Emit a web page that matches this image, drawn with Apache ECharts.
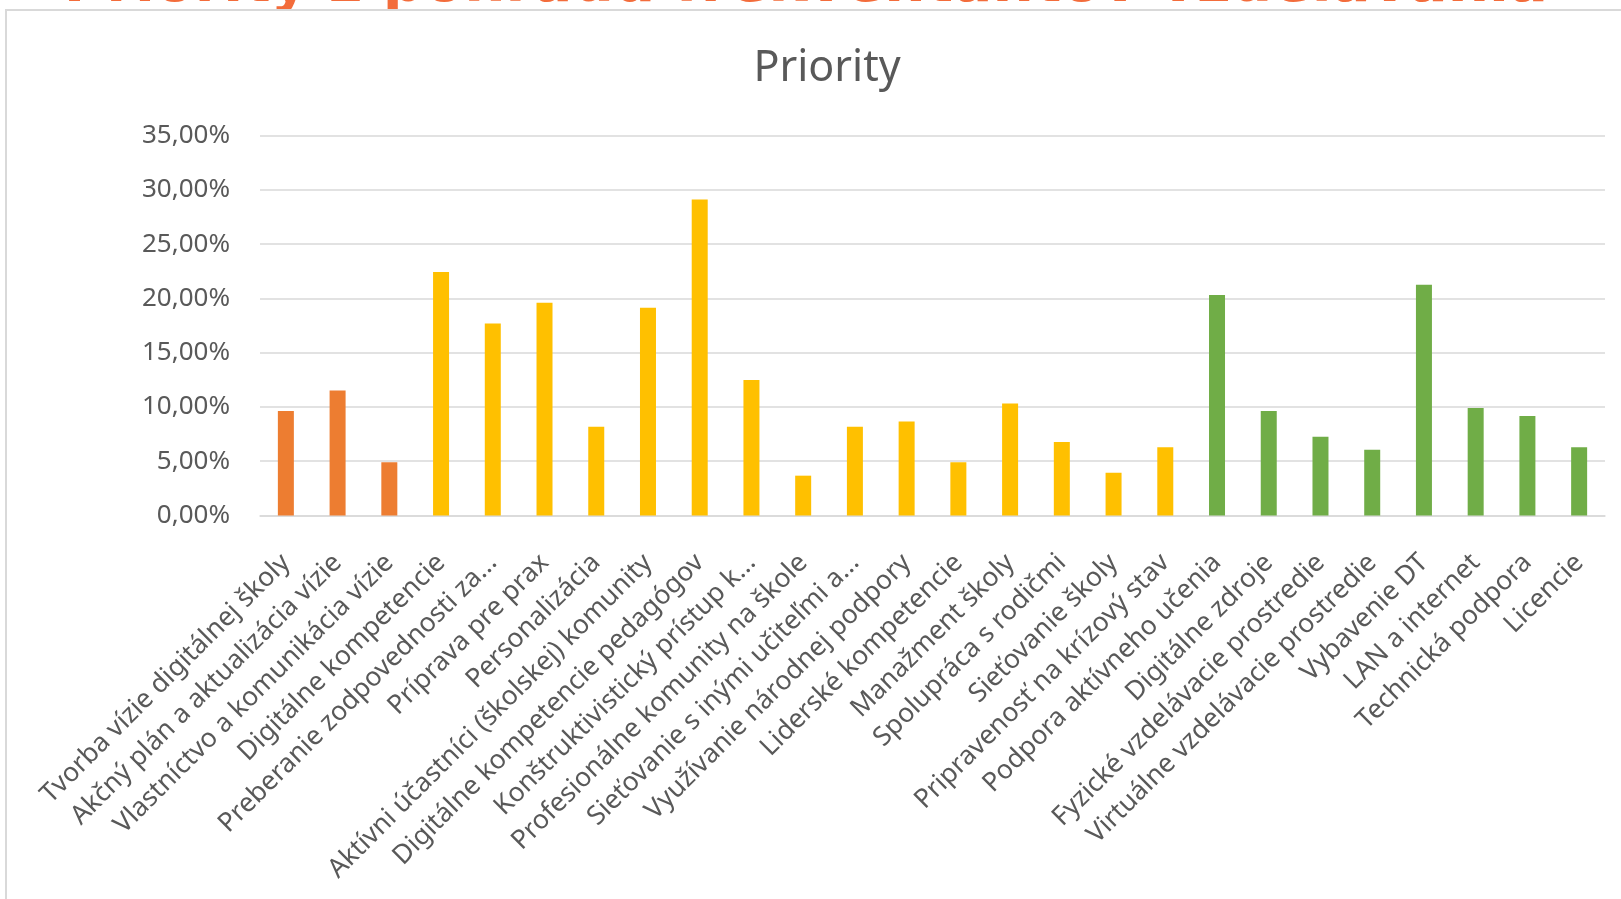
<!DOCTYPE html>
<html>
<head>
<meta charset="utf-8">
<script src="https://cdn.jsdelivr.net/npm/echarts@6/dist/echarts.min.js"></script>
<style>
html,body{margin:0;padding:0;background:#fff;}
#chart{width:1621px;height:899px;}
</style>
</head>
<body>
<div id="chart"></div>
<script>
// ---- data ----
const categories = [
  'Tvorba vízie digitálnej školy',
  'Akčný plán a aktualizácia vízie',
  'Vlastníctvo a komunikácia vízie',
  'Digitálne kompetencie',
  'Preberanie zodpovednosti za...',
  'Príprava pre prax',
  'Personalizácia',
  'Aktívni účastníci (školskej) komunity',
  'Digitálne kompetencie pedagógov',
  'Konštruktivistický prístup k...',
  'Profesionálne komunity na škole',
  'Sieťovanie s inými učiteľmi a...',
  'Využívanie národnej podpory',
  'Liderské kompetencie',
  'Manažment školy',
  'Spolupráca s rodičmi',
  'Sieťovanie školy',
  'Pripravenosť na krízový stav',
  'Podpora aktívneho učenia',
  'Digitálne zdroje',
  'Fyzické vzdelávacie prostredie',
  'Virtuálne vzdelávacie prostredie',
  'Vybavenie DT',
  'LAN a internet',
  'Technická podpora',
  'Licencie'
];
const values = [9.62, 11.53, 4.90, 22.43, 17.70, 19.60, 8.18, 19.14, 29.12, 12.48, 3.67, 8.18, 8.67,
                4.90, 10.33, 6.77, 3.94, 6.28, 20.31, 9.62, 7.26, 6.06, 21.26, 9.90, 9.16, 6.28];
const groups = ['A','A','A','B','B','B','B','B','B','B','B','B','B','B','B','B','B','B',
                'C','C','C','C','C','C','C','C'];
const groupColors = {A: '#ED7D31', B: '#FFC000', C: '#70AD47'};
const yTicks = {min: 0, max: 35, interval: 5};
const chartTitle = 'Priority';
const slideTitle = 'Priority z pohľadu frekventantov vzdelávania';

const chart = echarts.init(document.getElementById('chart'));
chart.setOption({
  animation: false,
  backgroundColor: '#ffffff',
  title: {
    text: chartTitle,
    left: 822,
    textAlign: 'center',
    top: 42,
    textStyle: {fontFamily: 'Noto Sans', fontSize: 43, fontWeight: 'normal', color: '#595959'}
  },
  graphic: [
    {type: 'text', z: 1, style: {text: slideTitle, x: 1548, y: 15, align: 'right', verticalAlign: 'bottom',
      fontFamily: 'DejaVu Sans', fontSize: 58, fontWeight: 'bold', fill: '#F36C3B'}},
    {type: 'rect', z: 2, shape: {x: 7, y: 11, width: 1700, height: 30}, style: {fill: '#ffffff'}},
    {type: 'rect', z: 3, shape: {x: 6, y: 10, width: 1700, height: 1000}, style: {fill: 'none', stroke: '#d9d9d9', lineWidth: 2}}
  ],
  grid: {left: 260, right: 16, top: 135.7, bottom: 383.5, containLabel: false},
  xAxis: {
    type: 'category',
    data: categories,
    axisLine: {lineStyle: {color: '#d9d9d9', width: 1.5}},
    axisTick: {show: false},
    axisLabel: {interval: 0, rotate: 45, margin: 43, color: '#595959', fontFamily: 'Noto Sans', fontSize: 26.5}
  },
  yAxis: {
    type: 'value',
    min: yTicks.min, max: yTicks.max, interval: yTicks.interval,
    axisLine: {show: false},
    axisTick: {show: false},
    splitLine: {lineStyle: {color: '#d9d9d9', width: 1.5}},
    axisLabel: {
      margin: 30,
      color: '#595959', fontFamily: 'Noto Sans', fontSize: 26,
      formatter: v => v.toFixed(2).replace('.', ',') + '%'
    }
  },
  series: [{
    type: 'bar',
    barWidth: 16,
    data: values.map((v, i) => ({value: v, itemStyle: {color: groupColors[groups[i]]}}))
  }]
});
</script>
</body>
</html>
